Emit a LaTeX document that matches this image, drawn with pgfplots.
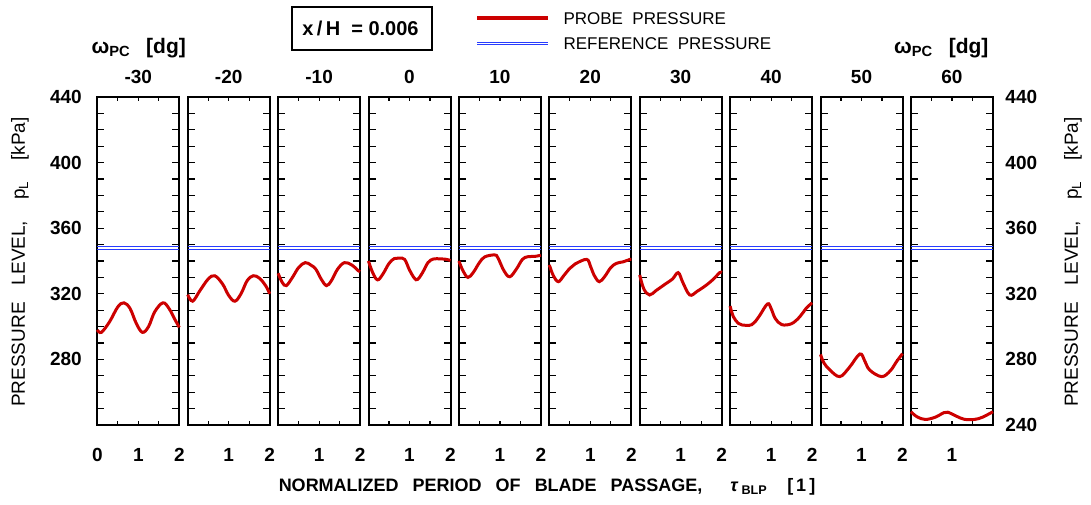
\documentclass[border=0pt]{standalone}
\usepackage{pgfplots}
\pgfplotsset{compat=1.18}
\usepackage{fontspec}
\setmainfont{Liberation Sans}

\definecolor{probered}{RGB}{204,0,0}
\definecolor{refblue}{RGB}{40,60,255}

\newcommand{\tkfont}{\bfseries\fontsize{19}{21}\selectfont}

\pgfplotsset{
  panel/.style={
    scale only axis, width=82pt, height=328pt,
    anchor=south west,
    xmin=0, xmax=2, ymin=240, ymax=440,
    xtick={0,0.5,1,1.5,2},
    ytick={240,280,...,440},
    minor ytick={250,260,...,430},
    tick align=inside,
    major tick length=7pt, minor tick length=7pt,
    xtick style={/pgfplots/major tick length=4pt, line width=1.2pt, black},
    ytick style={line width=1.2pt, black},
    minor y tick style={line width=1.2pt, black},
    axis line style={line width=2pt},
    ticklabel style={font=\tkfont},
    /pgf/number format/assume math mode=true,
    xticklabel style={yshift=-20pt},
    yticklabels={,,,,,},
    clip=false,
  },
  probe/.style={probered, line width=3pt, smooth, tension=0.6, no marks},
  ref/.style={refblue, line width=0.8pt, no marks},
}

\newcommand{\refline}{%
  \addplot[ref] coordinates {(0,347.2) (2,347.2)};
  \addplot[ref] coordinates {(0,349.1) (2,349.1)};}

\begin{document}
\begin{tikzpicture}[x=1pt,y=1pt]
\path[use as bounding box] (0,0) rectangle (1091,504);

% -30
\begin{axis}[panel, at={(97.3pt,79pt)}, xticklabels={0,,1,,2},
  yticklabel pos=left,
  yticklabels={,280,320,360,400,440},
  yticklabel style={xshift=-12pt}]
\refline
\addplot[probe] coordinates {(0,298) (0.1,296.5) (0.3,303) (0.5,312) (0.65,314.5) (0.8,311) (0.95,302) (1.1,296.5) (1.25,300) (1.4,309) (1.6,314.5) (1.75,311) (1.9,304) (2,299.5)};
\end{axis}
% -20
\begin{axis}[panel, at={(187.7pt,79pt)}, xticklabels={,,1,,2}]
\refline
\addplot[probe] coordinates {(0,319.5) (0.12,315.5) (0.3,322) (0.5,329) (0.66,331) (0.85,326) (1.0,319) (1.15,315.5) (1.3,320) (1.45,328) (1.6,331) (1.75,329.5) (1.9,325) (2,320)};
\end{axis}
% -10
\begin{axis}[panel, at={(278.1pt,79pt)}, xticklabels={,,1,,2}]
\refline
\addplot[probe] coordinates {(0,332.5) (0.1,327) (0.2,325) (0.35,330) (0.5,336) (0.66,339) (0.8,337.5) (0.92,335) (1.05,329) (1.18,325) (1.3,328) (1.45,335) (1.62,339) (1.8,337.5) (1.96,334) (2,333.5)};
\end{axis}
% 0
\begin{axis}[panel, at={(368.5pt,79pt)}, xticklabels={,,1,,2}]
\refline
\addplot[probe] coordinates {(0,340) (0.1,333) (0.22,328.5) (0.35,332) (0.5,338.5) (0.63,341.5) (0.75,341.8) (0.88,341) (1.0,334.5) (1.12,329.5) (1.2,328.8) (1.32,333) (1.45,339) (1.58,341.2) (1.75,341.3) (1.9,341) (2,340.3)};
\end{axis}
% 10
\begin{axis}[panel, at={(458.9pt,79pt)}, xticklabels={,,1,,2}]
\refline
\addplot[probe] coordinates {(0,340) (0.1,334) (0.22,330) (0.35,333) (0.5,339) (0.63,342.5) (0.87,343.7) (0.95,342) (1.1,334) (1.24,330.4) (1.4,335) (1.55,341) (1.68,342.6) (1.85,342.8) (2,343.5)};
\end{axis}
% 20
\begin{axis}[panel, at={(549.3pt,79pt)}, xticklabels={,,1,,2}]
\refline
\addplot[probe] coordinates {(0,337.6) (0.1,331) (0.22,327.4) (0.35,331) (0.5,335.5) (0.63,338.2) (0.91,341) (1.0,337) (1.1,331) (1.22,327.4) (1.35,330.5) (1.5,336) (1.64,338.6) (1.8,339.5) (1.97,341) (2,341)};
\end{axis}
% 30
\begin{axis}[panel, at={(639.7pt,79pt)}, xticklabels={,,1,,2}]
\refline
\addplot[probe] coordinates {(0,331.5) (0.1,323) (0.24,319.3) (0.4,322) (0.65,326.4) (0.8,329) (0.94,332.9) (1.05,327) (1.22,319.3) (1.4,321.5) (1.63,325.4) (1.8,329) (1.95,332.9) (2,333)};
\end{axis}
% 40
\begin{axis}[panel, at={(730.1pt,79pt)}, xticklabels={,,1,,2}]
\refline
\addplot[probe] coordinates {(0,312.5) (0.08,306) (0.2,302) (0.29,301) (0.53,301.2) (0.7,306) (0.91,313.8) (1.0,311) (1.1,305) (1.26,301.2) (1.5,301.8) (1.7,306) (1.85,311) (2,314.5)};
\end{axis}
% 50
\begin{axis}[panel, at={(820.5pt,79pt)}, xticklabels={,,1,,2}]
\refline
\addplot[probe] coordinates {(0,283) (0.08,278) (0.23,273.5) (0.47,269.5) (0.7,275) (0.96,283.3) (1.08,279) (1.2,273.5) (1.49,269.5) (1.7,273) (1.85,278.5) (2,283.5)};
\end{axis}
% 60
\begin{axis}[panel, at={(910.9pt,79pt)}, xticklabels={,,1,,},
  yticklabel pos=right, yticklabels={240,280,320,360,400,440},
  yticklabel style={xshift=9pt}]
\refline
\addplot[probe] coordinates {(0,248.1) (0.15,245) (0.35,243.4) (0.6,244.8) (0.8,247.5) (0.9,247.8) (1.1,245.5) (1.3,243.5) (1.55,243.4) (1.75,244.8) (2,248.1)};
\end{axis}

% panel titles
\foreach \t [count=\i from 0] in {-30,-20,-10,0,10,20,30,40,50,60}
  \node[font=\tkfont] at (97.3+90.4*\i+41,427) {\t};

% omega labels
\node[anchor=west, font=\bfseries\fontsize{21}{23}\selectfont] at (88,456) {ω\textsubscript{PC}\hspace{16pt}[dg]};
\node[anchor=east, font=\bfseries\fontsize{21}{23}\selectfont] at (992,456) {ω\textsubscript{PC}\hspace{16pt}[dg]};

% x/H box
\draw[line width=1.8pt] (291.7,454) rectangle (431.7,496.7);
\node[font=\bfseries\fontsize{20}{22}\selectfont] at (360.5,475.3) {x\,/\,H\ \ = 0.006};

% legend
\draw[probered, line width=4pt] (477,485.7) -- (548,485.7);
\node[anchor=west, font=\fontsize{17}{20}\selectfont] at (560,485.7) {PROBE\ \ PRESSURE};
\draw[refblue, line width=0.8pt] (477,459.7) -- (548,459.7);
\draw[refblue, line width=0.8pt] (477,462) -- (548,462);
\node[anchor=west, font=\fontsize{17}{20}\selectfont] at (560,460.7) {REFERENCE\ \ PRESSURE};

% axis labels
\node[rotate=90, font=\fontsize{19}{21}\selectfont] at (20,242) {PRESSURE\hspace{0.9em}LEVEL,\hspace{1.1em}p\textsubscript{L}\hspace{1.1em}[kPa]};
\node[rotate=90, font=\fontsize{19}{21}\selectfont] at (1073,242) {PRESSURE\hspace{0.9em}LEVEL,\hspace{1.1em}p\textsubscript{L}\hspace{1.1em}[kPa]};
\node[font=\bfseries\fontsize{18}{20}\selectfont] at (547,17) {NORMALIZED\hspace{14pt}PERIOD\hspace{14pt}OF\hspace{14pt}BLADE\hspace{14pt}PASSAGE,\hspace{28pt}\textit{τ}\,\textsubscript{BLP}\hspace{20pt}[\,1\,]};
\end{tikzpicture}
\end{document}
